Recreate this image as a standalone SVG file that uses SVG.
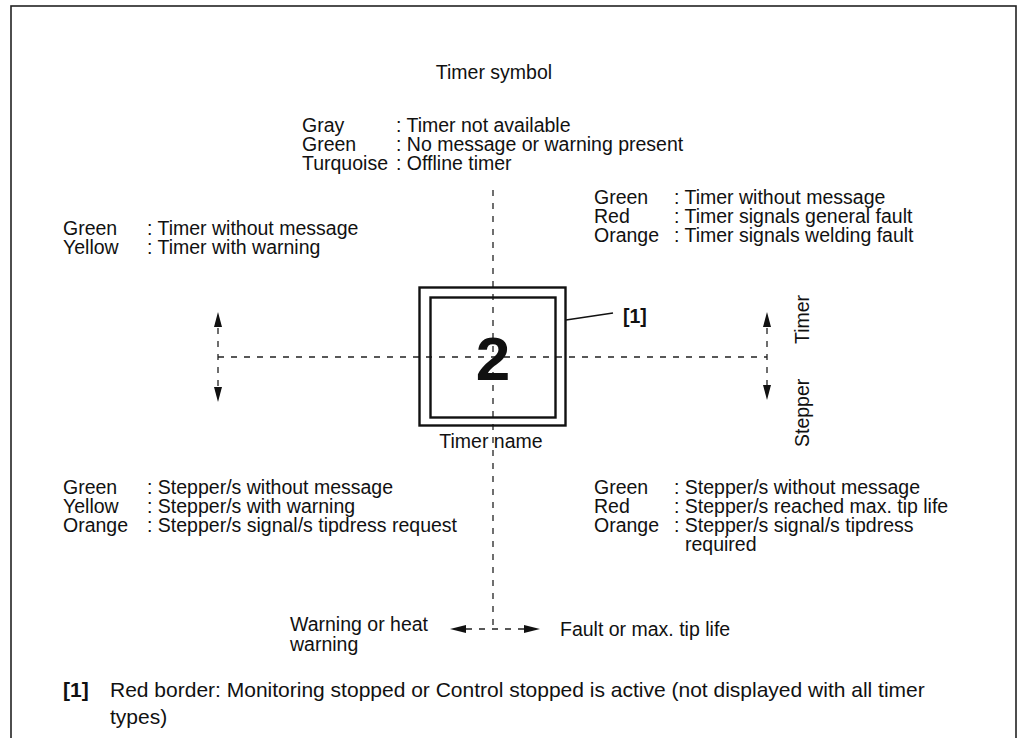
<svg xmlns="http://www.w3.org/2000/svg" width="1022" height="738" viewBox="0 0 1022 738">
  <defs>
    <style>
      text { font-family: "Liberation Sans", Arial, Helvetica, sans-serif; font-size: 19.5px; fill: #111; }
      .bold { font-weight: bold; }
      .big { font-weight: bold; font-size: 62px; }
      .note { font-size: 21px; }
      .dash { fill: none; stroke: #222; stroke-width: 1.3; stroke-dasharray: 6 7; }
      .line { fill: none; stroke: #111; stroke-width: 1.5; }
      .head { fill: #111; stroke: none; }
    </style>
  </defs>

  <!-- page frame -->
  <rect x="11" y="6" width="1005" height="780" fill="#fff" stroke="#222" stroke-width="1.6"/>

  <text x="494" y="79" text-anchor="middle">Timer symbol</text>

  <!-- legend blocks -->
  <g id="legend-top">
    <text y="132"><tspan x="302">Gray</tspan><tspan x="396">: Timer not available</tspan></text>
    <text y="151"><tspan x="302">Green</tspan><tspan x="396">: No message or warning present</tspan></text>
    <text y="170"><tspan x="302">Turquoise</tspan><tspan x="396">: Offline timer</tspan></text>
  </g>
  <g id="legend-top-right">
    <text y="204"><tspan x="594">Green</tspan><tspan x="674">: Timer without message</tspan></text>
    <text y="223"><tspan x="594">Red</tspan><tspan x="674">: Timer signals general fault</tspan></text>
    <text y="242"><tspan x="594">Orange</tspan><tspan x="674">: Timer signals welding fault</tspan></text>
  </g>
  <g id="legend-left">
    <text y="235"><tspan x="63">Green</tspan><tspan x="147">: Timer without message</tspan></text>
    <text y="254"><tspan x="63">Yellow</tspan><tspan x="147">: Timer with warning</tspan></text>
  </g>
  <g id="legend-bottom-left">
    <text y="494"><tspan x="63">Green</tspan><tspan x="147">: Stepper/s without message</tspan></text>
    <text y="513"><tspan x="63">Yellow</tspan><tspan x="147">: Stepper/s with warning</tspan></text>
    <text y="532"><tspan x="63">Orange</tspan><tspan x="147">: Stepper/s signal/s tipdress request</tspan></text>
  </g>
  <g id="legend-bottom-right">
    <text y="494"><tspan x="594">Green</tspan><tspan x="674">: Stepper/s without message</tspan></text>
    <text y="513"><tspan x="594">Red</tspan><tspan x="674">: Stepper/s reached max. tip life</tspan></text>
    <text y="532"><tspan x="594">Orange</tspan><tspan x="674">: Stepper/s signal/s tipdress</tspan></text>
    <text x="685" y="551">required</text>
  </g>

  <!-- connectors: dashed axes and arrows -->
  <g id="connectors">
    <line class="dash" x1="493" y1="190" x2="493" y2="628"/>
    <line class="dash" x1="218" y1="357" x2="767" y2="357"/>
    <line class="dash" x1="218" y1="328" x2="218" y2="386"/>
    <line class="dash" x1="767" y1="328" x2="767" y2="386"/>
    <line class="dash" x1="466" y1="629" x2="524" y2="629"/>
    <polygon class="head" points="218,312 214,327 222,327"/>
    <polygon class="head" points="218,402 214,387 222,387"/>
    <polygon class="head" points="767,312 763,327 771,327"/>
    <polygon class="head" points="767,400 763,385 771,385"/>
    <polygon class="head" points="450,629 466,625 466,633"/>
    <polygon class="head" points="540,629 524,625 524,633"/>
    <line class="line" x1="566" y1="320" x2="613" y2="313"/>
  </g>

  <!-- timer symbol -->
  <g id="timer-symbol">
    <rect x="419.5" y="287.5" width="146" height="138" fill="none" stroke="#111" stroke-width="2.4"/>
    <rect x="430.5" y="297.5" width="125" height="120" fill="none" stroke="#111" stroke-width="2.4"/>
    <text class="big" x="493" y="380" text-anchor="middle">2</text>
    <text x="491" y="448" text-anchor="middle">Timer name</text>
  </g>

  <g id="callout-1">
    <text class="bold" x="623" y="323">[1]</text>
  </g>

  <g id="axis-labels">
    <text transform="translate(809,344) rotate(-90)">Timer</text>
    <text transform="translate(809,447) rotate(-90)">Stepper</text>
  </g>

  <g id="bottom-arrows">
    <text x="290" y="631">Warning or heat</text>
    <text x="290" y="651">warning</text>
    <text x="560" y="636">Fault or max. tip life</text>
  </g>

  <g id="footnote">
    <text class="bold note" x="63" y="697">[1]</text>
    <text class="note" x="110" y="697">Red border: Monitoring stopped or Control stopped is active (not displayed with all timer</text>
    <text class="note" x="110" y="724">types)</text>
  </g>
</svg>
